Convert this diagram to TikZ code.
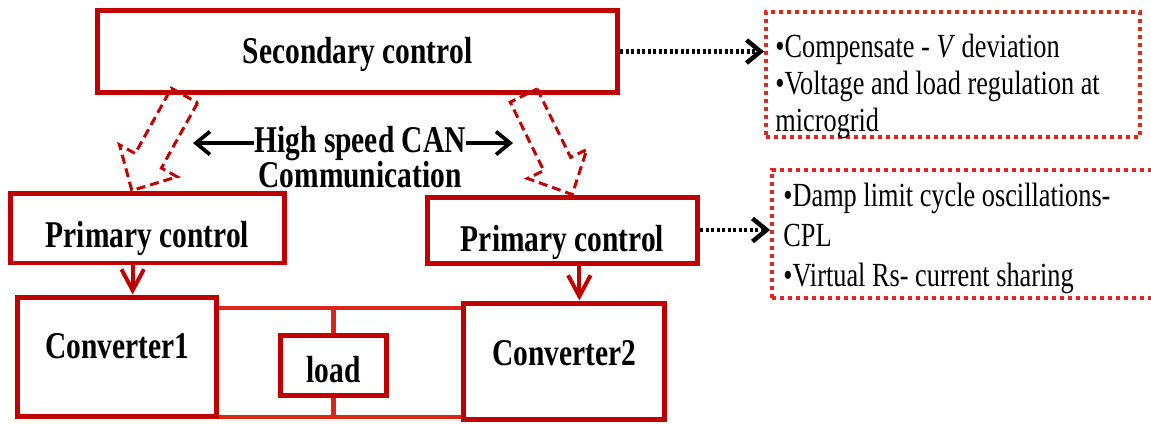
\documentclass[tikz,border=0pt]{standalone}
\usepackage{fontspec}
\setmainfont{Liberation Serif}[FakeStretch=0.78]
\usetikzlibrary{arrows.meta,calc}
\definecolor{boxred}{HTML}{C00000}
\definecolor{wirered}{HTML}{D9261C}
\definecolor{dotred}{HTML}{E3261E}
\newcommand{\hollowarrow}[2]{%
  \coordinate (neck) at ($(#2)!0.68cm!(#1)$);
  \draw[hollow] ($(#1)!0.3cm!90:(#2)$) -- ($(neck)!0.3cm!90:(#2)$) -- ($(neck)!0.66cm!90:(#2)$) -- (#2)
    -- ($(neck)!0.66cm!-90:(#2)$) -- ($(neck)!0.3cm!-90:(#2)$) -- ($(#1)!0.3cm!-90:(#2)$) -- cycle;}

\begin{document}
\begin{tikzpicture}[x=0.02cm,y=-0.02cm,
  box/.style={draw=boxred,line width=0.1cm,inner sep=0,font=\fontsize{21.5}{24}\selectfont\bfseries},
  lbl/.style={inner sep=0,font=\fontsize{21.5}{24}\selectfont\bfseries},
  info/.style={draw=dotred,line width=0.08cm,dash pattern=on 0.08cm off 0.08cm},
  note/.style={inner sep=0,anchor=north west,align=left,font=\fontsize{19.2}{21}\selectfont},
  wire/.style={wirered,line width=0.09cm},
  feed/.style={boxred,line width=0.08cm,-{Straight Barb[length=0.42cm,width=0.45cm]}},
  link/.style={black,line width=0.075cm,-{Straight Barb[length=0.28cm,width=0.46cm]}},
  dotlink/.style={link,line width=0.09cm,dash pattern=on 0.06cm off 0.05cm},
  hollow/.style={boxred,line width=0.06cm,dash pattern=on 0.18cm off 0.1cm,line join=miter}]
\useasboundingbox (0,0) rectangle (1151,423);

\node[box,minimum width=10.42cm,minimum height=1.66cm,text height=0.62cm,text depth=0.16cm] (sec) at (357.5,51.5) {Secondary control};
\node[box,minimum width=5.5cm,minimum height=1.4cm,text height=0.92cm,text depth=0.16cm] (pl) at (147.5,228) {Primary control};
\node[box,minimum width=5.42cm,minimum height=1.32cm,text height=1cm,text depth=0.16cm] (pr) at (562.5,230) {Primary control};
\node[box,minimum width=4cm,minimum height=2.4cm,text height=0.52cm,text depth=0.48cm] (conv1) at (117,357) {Converter1};
\node[box,minimum width=4.04cm,minimum height=2.34cm,text height=0.52cm,text depth=0.38cm] (conv2) at (564,361.5) {Converter2};
\node[box,minimum width=2.14cm,minimum height=1.2cm,text height=0.84cm,text depth=0.16cm] (load) at (333.5,365) {load};

% dc bus
\coordinate (busT) at (332,308);
\coordinate (busB) at (332,417);
\draw[wire] (conv1.east |- busT) -- (conv2.west |- busT);
\draw[wire] (conv1.east |- busB) -- (conv2.west |- busB);
\draw[wire] (load.north) -- (load.north |- busT);
\draw[wire] (load.south) -- (load.south |- busB);

\draw[feed] ($(pl.south west)!.447!(pl.south east)$) coordinate (f1) -- (f1 |- conv1.north);
\draw[feed] ($(pr.south west)!.561!(pr.south east)$) coordinate (f2) -- (f2 |- conv2.north);

% CAN link
\node[lbl,anchor=base] (can) at (360,152) {High speed CAN};
\node[lbl,anchor=base] (comm) at (360,187) {Communication};
\coordinate (canL) at (193,139);
\coordinate (canR) at (513,139);
\draw[link] (can.west) -- (can.west -| canL);
\draw[link] (can.east) -- (can.east -| canR);

\coordinate (h1) at ($(sec.south west)!.171!(sec.south east)$);
\coordinate (p1) at ($(pl.north west)!.444!(pl.north east)$);
\coordinate (h2) at ($(sec.south west)!.816!(sec.south east)$);
\coordinate (p2) at ($(pr.north west)!.535!(pr.north east)$);
\hollowarrow{h1}{p1}
\hollowarrow{h2}{p2}

% objectives
\node[info,minimum width=7.48cm,minimum height=2.5cm] (obj1) at (953,74.5) {};
\node[note] (txt1) at (775,34) {•Compensate - \textit{V} deviation\\•Voltage and load regulation at\\microgrid};
\node[info,minimum width=7.96cm,minimum height=2.56cm] (obj2) at (971,234) {};
\node[note,font=\fontsize{19.2}{22.7}\selectfont] (txt2) at (783,183) {•Damp limit cycle oscillations-\\CPL\\•Virtual Rs- current sharing};
\draw[dotlink] (sec.east) -- (sec.east -| obj1.west);
\draw[dotlink] (pr.east) -- (pr.east -| obj2.west);
\end{tikzpicture}
\end{document}
